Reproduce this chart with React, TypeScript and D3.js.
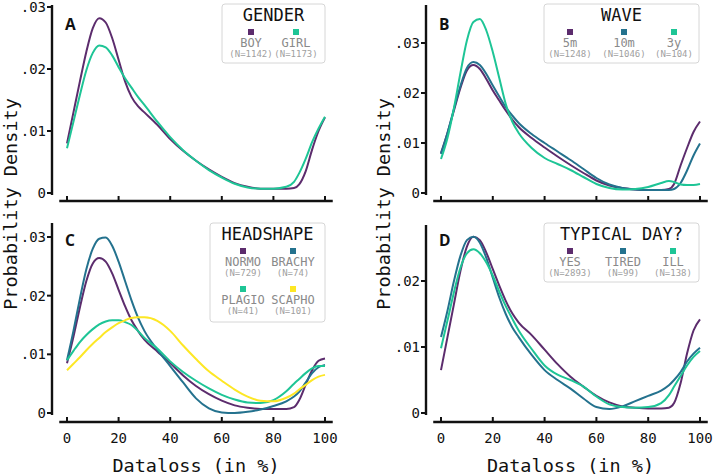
import { useEffect, useRef } from "react"
import * as d3 from "d3"

// dataloss grid (in %), shared by every density curve
const grid = [0, 2.5, 5, 7.5, 10, 12.5, 15, 17.5, 20, 22.5, 25, 27.5, 30, 35, 40, 45, 50, 55, 60, 65, 70, 75, 80, 85, 88, 90, 92.5, 95, 97.5, 100]

// A: gender
const boy = [.0080, .0130, .0180, .0228, .0266, .0282, .0275, .0250, .0215, .0180, .0155, .0140, .0130, .0110, .0087, .0068, .0052, .0038, .0026, .0016, .0010, .0007, .0007, .0007, .0008, .0014, .0035, .0070, .0100, .0122]
const girl = [.0072, .0115, .0158, .0198, .0226, .0238, .0235, .0222, .0203, .0185, .0170, .0155, .0142, .0115, .0090, .0069, .0052, .0037, .0025, .0015, .0009, .0007, .0007, .0010, .0018, .0032, .0055, .0082, .0104, .0123]

// B: wave
const wave5m = [.0080, .0120, .0165, .0210, .0245, .0256, .0248, .0228, .0205, .0185, .0165, .0147, .0132, .0110, .0091, .0073, .0056, .0040, .0025, .0015, .0010, .0007, .0006, .0006, .0008, .0018, .0055, .0090, .0122, .0143]
const wave10m = [.0078, .0120, .0168, .0214, .0250, .0262, .0256, .0238, .0215, .0193, .0172, .0155, .0140, .0118, .0100, .0083, .0066, .0048, .0030, .0017, .0010, .0007, .0006, .0006, .0006, .0008, .0020, .0045, .0075, .0099]
const wave3y = [.0068, .0110, .0170, .0240, .0305, .0342, .0348, .0325, .0282, .0230, .0178, .0143, .0120, .0090, .0070, .0058, .0046, .0032, .0018, .0010, .0007, .0008, .0012, .0020, .0024, .0022, .0017, .0016, .0016, .0018]

// C: headshape
const normo = [.0085, .0130, .0180, .0225, .0255, .0264, .0258, .0238, .0210, .0182, .0158, .0140, .0125, .0105, .0085, .0064, .0046, .0032, .0021, .0013, .0009, .0007, .0007, .0007, .0010, .0022, .0048, .0073, .0089, .0093]
const brachy = [.0090, .0140, .0195, .0245, .0280, .0297, .0299, .0285, .0258, .0225, .0192, .0163, .0140, .0108, .0080, .0052, .0025, .0008, .0001, .0000, .0002, .0006, .0012, .0020, .0028, .0036, .0052, .0068, .0078, .0082]
const plagio = [.0090, .0106, .0121, .0133, .0143, .0151, .0156, .0158, .0158, .0155, .0150, .0140, .0128, .0110, .0088, .0070, .0055, .0042, .0031, .0023, .0018, .0017, .0022, .0037, .0050, .0058, .0068, .0076, .0080, .0080]
const scapho = [.0073, .0084, .0095, .0107, .0118, .0128, .0138, .0146, .0153, .0158, .0162, .0163, .0163, .0157, .0140, .0115, .0092, .0071, .0055, .0040, .0028, .0021, .0020, .0026, .0033, .0040, .0048, .0056, .0062, .0065]

// D: typical day?
const yes = [.0065, .0115, .0165, .0215, .0252, .0267, .0262, .0243, .0218, .0193, .0170, .0151, .0137, .0118, .0096, .0074, .0055, .0040, .0026, .0016, .0010, .0008, .0007, .0007, .0008, .0015, .0045, .0090, .0125, .0142]
const tired = [.0115, .0155, .0200, .0238, .0262, .0267, .0258, .0235, .0205, .0175, .0150, .0130, .0115, .0088, .0065, .0050, .0037, .0022, .0009, .0006, .0010, .0018, .0026, .0034, .0042, .0050, .0062, .0078, .0090, .0099]
const ill = [.0098, .0140, .0183, .0220, .0242, .0248, .0242, .0228, .0208, .0184, .0162, .0143, .0125, .0097, .0072, .0058, .0050, .0040, .0025, .0013, .0009, .0008, .0009, .0015, .0027, .0040, .0056, .0072, .0085, .0094]

const xTicks = [0, 20, 40, 60, 80, 100]
const yTicks3 = [0, .01, .02, .03]
const yTicks2 = [0, .01, .02]

const PURPLE = "#5c2c6d"
const BLUE = "#24728e"
const GREEN = "#1ec596"
const YELLOW = "#fde725"

const MONO = "'DejaVu Sans Mono', monospace"
const SANS = "'Open Sans', sans-serif"

interface Series { name: string; n: number; color: string; values: number[] }

interface Panel {
  letter: string
  title: string
  col: number
  row: number
  yMax: number
  yTicks: number[]
  series: Series[]
  legendCols: number
  legend: { x0: number; x1: number; entries: number[] }
}

const panels: Panel[] = [
  {
    letter: "A", title: "GENDER", col: 0, row: 0, yMax: .03, yTicks: yTicks3, legendCols: 2,
    legend: { x0: 222, x1: 325, entries: [251, 296] },
    series: [
      { name: "BOY", n: 1142, color: PURPLE, values: boy },
      { name: "GIRL", n: 1173, color: GREEN, values: girl },
    ],
  },
  {
    letter: "B", title: "WAVE", col: 1, row: 0, yMax: .03, yTicks: yTicks3, legendCols: 3,
    legend: { x0: 544, x1: 699, entries: [570, 624, 674] },
    series: [
      { name: "5m", n: 1248, color: PURPLE, values: wave5m },
      { name: "10m", n: 1046, color: BLUE, values: wave10m },
      { name: "3y", n: 104, color: GREEN, values: wave3y },
    ],
  },
  {
    letter: "C", title: "HEADSHAPE", col: 0, row: 1, yMax: .03, yTicks: yTicks3, legendCols: 2,
    legend: { x0: 210, x1: 325, entries: [243, 293] },
    series: [
      { name: "NORMO", n: 729, color: PURPLE, values: normo },
      { name: "BRACHY", n: 74, color: BLUE, values: brachy },
      { name: "PLAGIO", n: 41, color: GREEN, values: plagio },
      { name: "SCAPHO", n: 101, color: YELLOW, values: scapho },
    ],
  },
  {
    letter: "D", title: "TYPICAL DAY?", col: 1, row: 1, yMax: .02, yTicks: yTicks2, legendCols: 3,
    legend: { x0: 544, x1: 699, entries: [570, 623, 673] },
    series: [
      { name: "YES", n: 2893, color: PURPLE, values: yes },
      { name: "TIRED", n: 99, color: BLUE, values: tired },
      { name: "ILL", n: 138, color: GREEN, values: ill },
    ],
  },
]

// pixel layout of the 2x2 grid
const cols = [
  { axisX: 52, x0: 67, x1: 325, labelX: 11 },
  { axisX: 426, x0: 441, x1: 700, labelX: 384 },
]
// yTopPx: pixel of the yMax tick
const rowsLayout = [
  { zero: 193, axisY: 201, spineTop: 5 },
  { zero: 413, axisY: 422, spineTop: 223 },
]
const yTopPx: Record<string, number> = { A: 7, B: 43, C: 237, D: 281 }

export default function App() {
  const svgRef = useRef<SVGSVGElement>(null)

  useEffect(() => {
    if (!svgRef.current) return
    const svg = d3.select(svgRef.current)
    svg.selectAll("*").remove()

    const fmt = (v: number) => (v === 0 ? "0" : d3.format(".2f")(v).replace(/^0/, ""))

    panels.forEach((p) => {
      const c = cols[p.col]
      const r = rowsLayout[p.row]
      const spineTop = p.letter === "D" ? 225 : r.spineTop

      const x = d3.scaleLinear().domain([0, 100]).range([c.x0, c.x1])
      const y = d3.scaleLinear().domain([0, p.yMax]).range([r.zero, yTopPx[p.letter]])

      const g = svg.append("g")

      // y spine + ticks
      g.append("line")
        .attr("x1", c.axisX).attr("x2", c.axisX)
        .attr("y1", spineTop).attr("y2", r.zero + 2)
        .attr("stroke", "#111").attr("stroke-width", 2.4)
      p.yTicks.forEach((t) => {
        g.append("line")
          .attr("x1", c.axisX - 5).attr("x2", c.axisX)
          .attr("y1", y(t)).attr("y2", y(t))
          .attr("stroke", "#111").attr("stroke-width", 2)
        g.append("text")
          .attr("x", c.axisX - 6).attr("y", y(t)).attr("dy", "0.36em")
          .attr("text-anchor", "end")
          .style("font-family", MONO).style("font-size", "14px").attr("fill", "#111")
          .text(fmt(t))
      })

      // x spine + ticks
      g.append("line")
        .attr("x1", x(-3)).attr("x2", x(103))
        .attr("y1", r.axisY).attr("y2", r.axisY)
        .attr("stroke", "#111").attr("stroke-width", 2.4)
      xTicks.forEach((t) => {
        g.append("line")
          .attr("x1", x(t)).attr("x2", x(t))
          .attr("y1", r.axisY - 5).attr("y2", r.axisY)
          .attr("stroke", "#111").attr("stroke-width", 2)
        if (p.row === 1) {
          g.append("text")
            .attr("x", x(t)).attr("y", 443)
            .attr("text-anchor", "middle")
            .style("font-family", MONO).style("font-size", "14px").attr("fill", "#111")
            .text(t)
        }
      })

      if (p.row === 1) {
        g.append("text")
          .attr("x", (c.x0 + c.x1) / 2).attr("y", 472)
          .attr("text-anchor", "middle")
          .style("font-family", MONO).style("font-size", "18.5px").attr("fill", "#111")
          .text("Dataloss (in %)")
      }

      // curves
      const line = d3.line<number>()
        .x((_, i) => x(grid[i]))
        .y((d) => y(d))
        .curve(d3.curveMonotoneX)
      p.series.forEach((s) => {
        g.append("path")
          .datum(s.values)
          .attr("fill", "none")
          .attr("stroke", s.color)
          .attr("stroke-width", 2)
          .attr("d", line)
      })

      // panel letter
      g.append("text")
        .attr("x", c.x0 - 2).attr("y", y(0) - (r.zero - (p.row === 0 ? 30 : 246)))
        .style("font-family", SANS).style("font-weight", 700).style("font-size", "15.5px")
        .attr("fill", "#111")
        .text(p.letter)

      // legend
      const L = p.legend
      const top = p.row === 0 ? 4 : 223
      const rowsN = Math.ceil(p.series.length / p.legendCols)
      const h = rowsN === 1 ? 59 : 99
      const lg = g.append("g")
      lg.append("rect")
        .attr("x", L.x0).attr("y", top).attr("width", L.x1 - L.x0).attr("height", h)
        .attr("rx", 3).attr("fill", "white").attr("fill-opacity", 0.85)
        .attr("stroke", "#d6d6d6").attr("stroke-width", 1)
      lg.append("text")
        .attr("x", (L.x0 + L.x1) / 2).attr("y", top + 17)
        .attr("text-anchor", "middle")
        .style("font-family", MONO).style("font-size", "17px").attr("fill", "#111")
        .text(p.title)
      p.series.forEach((s, i) => {
        const cx = L.entries[i % p.legendCols]
        const oy = top + Math.floor(i / p.legendCols) * 38
        lg.append("rect")
          .attr("x", cx - 3).attr("y", oy + 25).attr("width", 6).attr("height", 6)
          .attr("fill", s.color)
        lg.append("text")
          .attr("x", cx).attr("y", oy + 43)
          .attr("text-anchor", "middle")
          .style("font-family", MONO).style("font-size", "12px").attr("fill", "#8a8a8a")
          .text(s.name)
        lg.append("text")
          .attr("x", cx).attr("y", oy + 53)
          .attr("text-anchor", "middle")
          .style("font-family", MONO).style("font-size", "9px").attr("fill", "#a0a0a0")
          .text(`(N=${s.n})`)
      })
    })

    // y axis titles, one per column
    cols.forEach((c) => {
      svg.append("text")
        .attr("transform", `translate(${c.labelX + 6},204) rotate(-90)`)
        .attr("text-anchor", "middle")
        .style("font-family", MONO).style("font-size", "18.5px").attr("fill", "#111")
        .text("Probability Density")
    })
  }, [])

  return (
    <svg
      ref={svgRef}
      width={714}
      height={476}
      style={{ position: "absolute", left: 0, top: 0, background: "white" }}
    ></svg>
  )
}
